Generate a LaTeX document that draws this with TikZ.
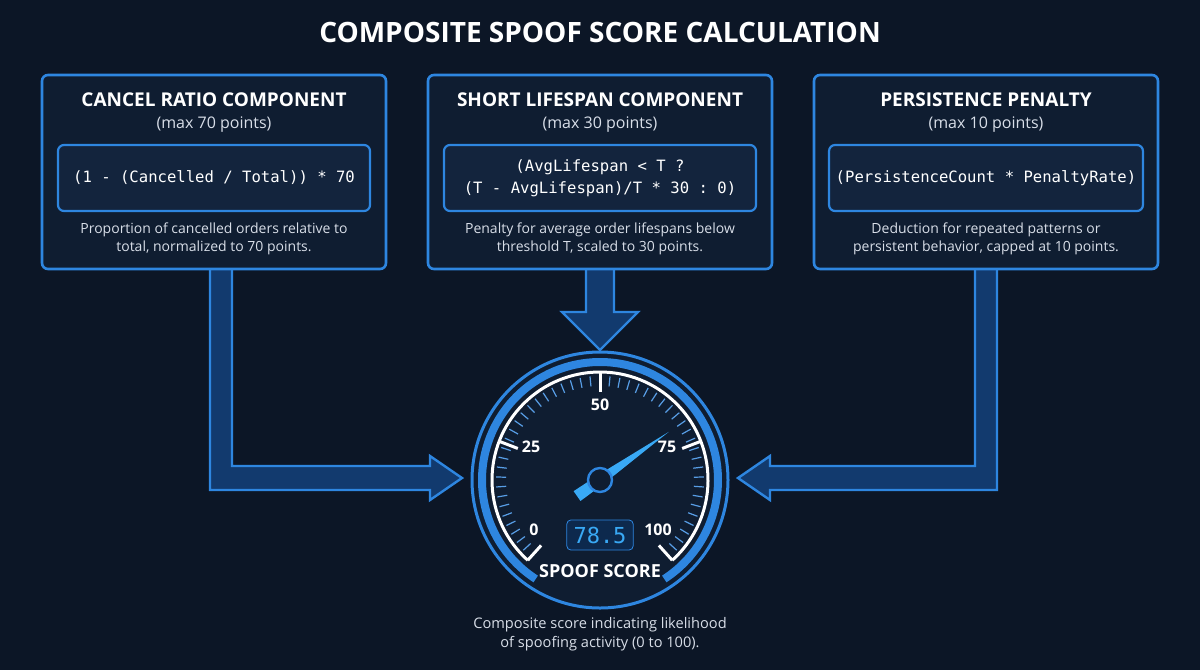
\documentclass[tikz,border=0pt]{standalone}
\usepackage{fontspec}
\setmainfont{Open Sans}
\setmonofont{DejaVu Sans Mono}
\usetikzlibrary{positioning, calc}
\definecolor{bgdark}{HTML}{0C1626}
\definecolor{boxfill}{HTML}{0F1D31}
\definecolor{formfill}{HTML}{13243D}
\definecolor{edgeblue}{HTML}{2E86E0}
\definecolor{glowblue}{HTML}{39A9F5}
\definecolor{arrowfill}{HTML}{123A6E}
\definecolor{subgrey}{HTML}{D8DEE8}

\begin{document}
\begin{tikzpicture}[x=0.5pt, y=-0.5pt,
	panel/.style={draw=edgeblue, line width=1.3pt, fill=boxfill, rounded corners=3pt,
		minimum width=172pt, minimum height=97pt},
	formbox/.style={draw=edgeblue, line width=1.1pt, fill=formfill, rounded corners=3pt,
		minimum width=156pt, minimum height=33pt, font=\ttfamily\fontsize{7.8}{11}\selectfont, text=white, align=center},
	ptitle/.style={text=white, font=\bfseries\fontsize{9.5}{12}\selectfont},
	psub/.style={text=subgrey, font=\fontsize{8}{10}\selectfont},
	pdesc/.style={text=subgrey, font=\fontsize{7}{9}\selectfont, align=center},
	fatarrow/.style={draw=edgeblue, line width=1.2pt, fill=arrowfill, line join=miter},
	dial/.style={text=white, font=\bfseries\fontsize{8}{10}\selectfont}]

\fill[bgdark] (0,0) rectangle (1200,670);
\useasboundingbox (0,0) rectangle (1200,670);

\node[text=white, font=\bfseries\fontsize{14}{16}\selectfont] (title) at (600,32) {COMPOSITE SPOOF SCORE CALCULATION};

% arrows first, behind panels
\draw[fatarrow] (210,250) -- (210,490) -- (430,490) -- (430,500) -- (462,478)
	-- (430,456) -- (430,466) -- (232,466) -- (232,250) -- cycle;
\draw[fatarrow] (997,250) -- (997,490) -- (770,490) -- (770,500) -- (738,478)
	-- (770,456) -- (770,466) -- (975,466) -- (975,250) -- cycle;
\draw[fatarrow] (586,250) -- (586,312) -- (562,312) -- (600,350) -- (638,312)
	-- (614,312) -- (614,250) -- cycle;

% panels
\node[panel] (cancel) at (214,172) {};
\node[panel] (life) at (600,172) {};
\node[panel] (persist) at (986,172) {};

\node[ptitle] (cancelT) at (214,100) {CANCEL RATIO COMPONENT};
\node[psub] (cancelS) at (214,125) {(max 70 points)};
\node[formbox] (cancelF) at (214,178) {(1 - (Cancelled / Total)) * 70};
\node[pdesc] (cancelD) at (214,239) {Proportion of cancelled orders relative to\\total, normalized to 70 points.};

\node[ptitle] (lifeT) at (600,100) {SHORT LIFESPAN COMPONENT};
\node[psub] (lifeS) at (600,125) {(max 30 points)};
\node[formbox] (lifeF) at (600,178) {(AvgLifespan < T ?\\(T - AvgLifespan)/T * 30 : 0)};
\node[pdesc] (lifeD) at (600,239) {Penalty for average order lifespans below\\threshold T, scaled to 30 points.};

\node[ptitle] (persistT) at (986,100) {PERSISTENCE PENALTY};
\node[psub] (persistS) at (986,125) {(max 10 points)};
\node[formbox] (persistF) at (986,178) {(PersistenceCount * PenaltyRate)};
\node[pdesc] (persistD) at (986,239) {Deduction for repeated patterns or\\persistent behavior, capped at 10 points.};

% gauge
\coordinate (gc) at (600,480);
\fill[boxfill] (gc) circle (64pt);
\draw[edgeblue, line width=1.5pt] (gc) circle (64pt);
\draw[edgeblue, line width=4pt] ($(gc)+(237:59pt)$) arc (237:-57:59pt);
\draw[white, line width=1.5pt] ($(gc)+(228:54pt)$) arc (228:-48:54pt);
\foreach \v in {0,2,...,100}
	\draw[edgeblue!80!white, line width=0.6pt] ($(gc)+({228-2.76*\v}:52pt)$) -- ($(gc)+({228-2.76*\v}:47pt)$);
\foreach \v in {0,25,50,75,100}
	\draw[white, line width=1.5pt] ($(gc)+({228-2.76*\v}:54pt)$) -- ($(gc)+({228-2.76*\v}:44pt)$);
\node[dial] (g0) at (534,530) {0};
\node[dial] (g25) at (531,447) {25};
\node[dial] (g50) at (600,405) {50};
\node[dial] (g75) at (667,447) {75};
\node[dial] (g100) at (658,530) {100};
\fill[glowblue] ($(gc)+(35:2pt)+(125:2.5pt)$) -- ($(gc)+(35:42pt)$) -- ($(gc)+(35:2pt)+(-55:2.5pt)$)
	-- ($(gc)+(215:14pt)+(-55:3pt)$) -- ($(gc)+(215:14pt)+(125:3pt)$) -- cycle;
\draw[edgeblue, line width=1.2pt, fill=boxfill] (gc) circle (6pt);
\node[draw=edgeblue, fill=arrowfill!70!black, rounded corners=2pt, minimum width=33pt, minimum height=15pt,
	text=glowblue, font=\ttfamily\fontsize{11}{12}\selectfont] (readout) at (600,535) {78.5};
\node[text=white, font=\bfseries\fontsize{9}{11}\selectfont] (gname) at (600,571) {SPOOF SCORE};
\node[pdesc, font=\fontsize{7.3}{9.3}\selectfont] (gdesc) at (600,634) {Composite score indicating likelihood\\of spoofing activity (0 to 100).};
\end{tikzpicture}
\end{document}
